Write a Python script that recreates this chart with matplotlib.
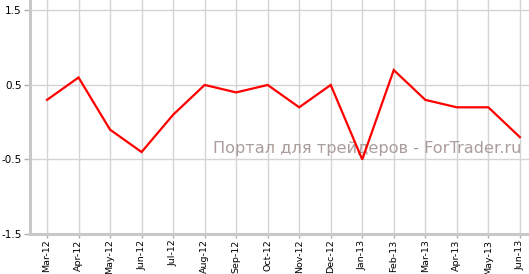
import matplotlib
matplotlib.use("Agg")
import matplotlib.pyplot as plt

months = ["Mar-12", "Apr-12", "May-12", "Jun-12", "Jul-12", "Aug-12", "Sep-12", "Oct-12",
          "Nov-12", "Dec-12", "Jan-13", "Feb-13", "Mar-13", "Apr-13", "May-13", "Jun-13"]
values = [0.3, 0.6, -0.1, -0.4, 0.1, 0.5, 0.4, 0.5, 0.2, 0.5, -0.5, 0.7, 0.3, 0.2, 0.2, -0.2]
yticks = [-1.5, -0.5, 0.5, 1.5]
ytick_labels = ["-1.5", "-0.5", "0.5", "1.5"]

W, H = 529, 274
fig = plt.figure(figsize=(W / 100, H / 100), dpi=100)
ax = fig.add_axes([30 / W, (H - 234) / H, (W - 30) / W, 234 / H])

x = list(range(len(months)))
ax.plot(x, values, color="#ff0000", lw=1.6, zorder=4, solid_joinstyle="miter")

ax.set_xlim(-0.54, 15.29)
ax.set_ylim(-1.5, 1.64)
ax.set_xticks(x)
ax.set_xticklabels(months, rotation=90, fontsize=6.8)
ax.set_yticks(yticks)
ax.set_yticklabels(ytick_labels, fontsize=7.5)
ax.grid(True, color="#d4d4d4", lw=1.0)
ax.set_axisbelow(True)

for s in ["top", "right"]:
    ax.spines[s].set_visible(False)
for s in ["left", "bottom"]:
    ax.spines[s].set_color("#c8c8c8")
    ax.spines[s].set_linewidth(2.2)
ax.tick_params(axis="y", color="#b0b0b0", length=4, width=1, pad=2)
ax.tick_params(axis="x", color="#b0b0b0", length=3, width=1, pad=1)

ax.text(0.985, 0.367, "Портал для трейдеров - ForTrader.ru", transform=ax.transAxes,
        ha="right", va="center", fontsize=11.6, color="#ab9d9b", zorder=2)

fig.savefig("out.png", dpi=100)
